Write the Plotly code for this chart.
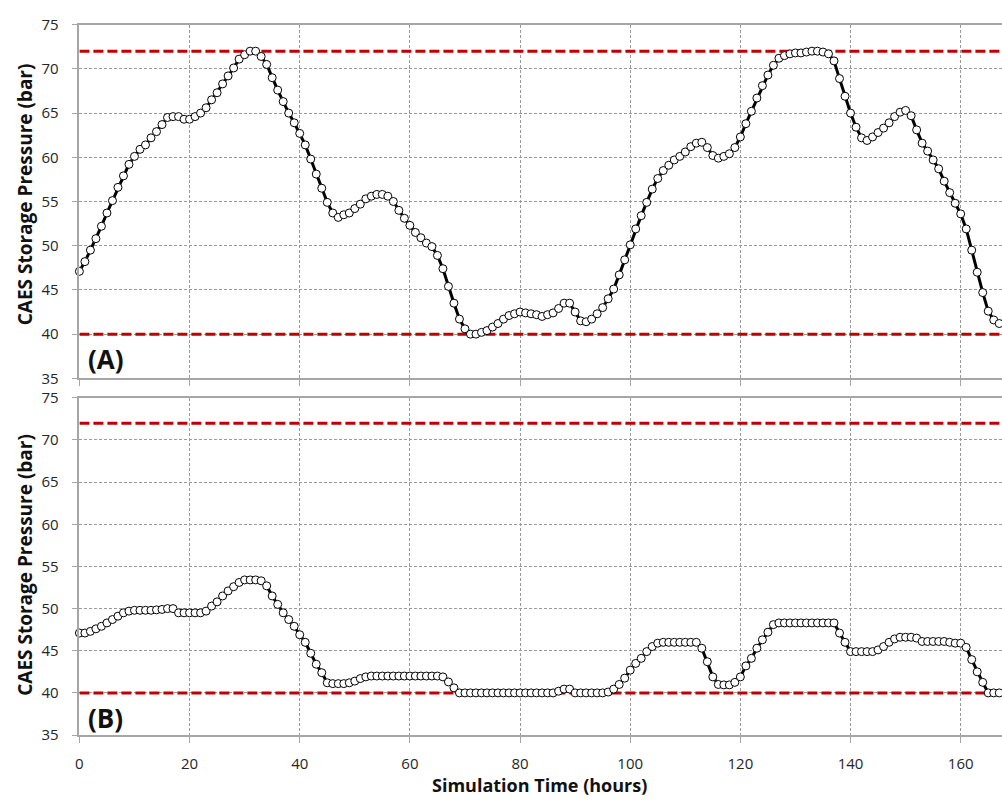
import plotly.graph_objects as go

# Hourly simulation time (h)
hours = list(range(0, 169))

# Storage pressure, case (A)
pressure_a = [
    47.1, 48.2, 49.5, 50.8, 52.2, 53.7, 55.1, 56.6, 57.9, 59.2,
    60.1, 60.9, 61.4, 62.2, 62.9, 63.7, 64.5, 64.6, 64.6, 64.3,
    64.3, 64.6, 65.0, 65.6, 66.5, 67.3, 68.3, 69.2, 70.1, 71.1,
    71.6, 72.0, 72.0, 71.4, 70.5, 69.0, 67.6, 66.3, 65.0, 63.9,
    62.7, 61.4, 59.8, 58.1, 56.5, 54.9, 53.7, 53.2, 53.5, 53.7,
    54.2, 54.7, 55.3, 55.6, 55.8, 55.8, 55.6, 55.0, 54.0, 53.1,
    52.3, 51.5, 50.9, 50.3, 49.9, 48.9, 47.4, 45.4, 43.5, 41.7,
    40.6, 40.0, 40.0, 40.2, 40.4, 40.8, 41.2, 41.7, 42.1, 42.3,
    42.5, 42.4, 42.3, 42.2, 42.0, 42.2, 42.4, 42.9, 43.5, 43.5,
    42.5, 41.5, 41.4, 41.7, 42.3, 43.0, 44.0, 45.1, 46.7, 48.4,
    50.1, 51.9, 53.4, 54.9, 56.4, 57.6, 58.5, 59.1, 59.7, 60.1,
    60.6, 61.2, 61.6, 61.7, 61.1, 60.2, 59.9, 60.1, 60.4, 61.1,
    62.3, 63.8, 65.2, 66.7, 68.1, 69.3, 70.4, 71.2, 71.5, 71.7,
    71.8, 71.8, 71.9, 72.0, 72.0, 71.9, 71.7, 70.9, 68.9, 66.9,
    65.0, 63.4, 62.2, 61.9, 62.3, 62.8, 63.3, 63.9, 64.6, 65.1,
    65.3, 64.7, 63.1, 61.6, 60.7, 59.7, 58.7, 57.3, 56.0, 54.8,
    53.6, 51.9, 49.5, 47.0, 44.7, 42.6, 41.6, 41.2, 41.0,
]

# Storage pressure, case (B)
pressure_b = [
    47.1, 47.1, 47.3, 47.6, 47.9, 48.3, 48.7, 49.1, 49.5, 49.7,
    49.8, 49.8, 49.8, 49.8, 49.85, 49.9, 50.0, 50.0, 49.5, 49.5,
    49.5, 49.5, 49.5, 49.7, 50.3, 50.8, 51.5, 52.1, 52.6, 53.1,
    53.4, 53.4, 53.4, 53.3, 52.7, 51.5, 50.5, 49.5, 48.7, 47.9,
    46.9, 46.0, 44.7, 43.4, 42.4, 41.2, 41.1, 41.1, 41.1, 41.2,
    41.4, 41.7, 41.9, 42.0, 42.0, 42.0, 42.0, 42.0, 42.0, 42.0,
    42.0, 42.0, 42.0, 42.0, 42.0, 42.0, 41.9, 41.3, 40.6, 40.0,
    40.0, 40.0, 40.0, 40.0, 40.0, 40.0, 40.0, 40.0, 40.0, 40.0,
    40.0, 40.0, 40.0, 40.0, 40.0, 40.0, 40.0, 40.2, 40.45, 40.45,
    40.0, 40.0, 40.0, 40.0, 40.0, 40.0, 40.1, 40.45, 41.0, 41.75,
    42.7, 43.5, 44.1, 44.9, 45.5, 45.9, 46.0, 46.0, 46.0, 46.0,
    46.0, 46.0, 46.0, 45.3, 43.7, 41.9, 41.0, 40.95, 40.95, 41.25,
    41.9, 43.2, 44.1, 45.3, 46.3, 47.2, 48.1, 48.3, 48.3, 48.3,
    48.3, 48.3, 48.3, 48.3, 48.3, 48.3, 48.3, 48.3, 47.1, 46.0,
    44.9, 44.9, 44.9, 44.9, 44.9, 45.1, 45.5, 46.0, 46.4, 46.6,
    46.6, 46.6, 46.5, 46.1, 46.1, 46.1, 46.1, 46.1, 46.0, 45.9,
    45.9, 45.4, 43.95, 42.5, 41.25, 40.0, 40.0, 40.0, 40.0,
]

# Operating pressure limits (bar)
p_min = 40
p_max = 72
limit_span = [0, 168]

x_ticks = [0, 20, 40, 60, 80, 100, 120, 140, 160]
y_ticks = [35, 40, 45, 50, 55, 60, 65, 70, 75]

FONT = "Open Sans"
RED = "#c00000"
GRID = "#9a9a9a"
AXIS = "#a6a6a6"

fig = go.Figure()

panels = [("x", "y", pressure_a), ("x2", "y2", pressure_b)]
for xa, ya, series in panels:
    for level in (p_max, p_min):
        fig.add_trace(go.Scatter(
            x=limit_span, y=[level, level], xaxis=xa, yaxis=ya,
            mode="lines", line=dict(color=RED, width=3, dash="10px,4px"),
            hoverinfo="skip", showlegend=False,
        ))
    fig.add_trace(go.Scatter(
        x=hours, y=series, xaxis=xa, yaxis=ya,
        mode="lines+markers", cliponaxis=False,
        line=dict(color="black", width=3),
        marker=dict(symbol="circle", size=8, color="white",
                    line=dict(color="black", width=1)),
        showlegend=False,
    ))

tick_font = dict(family=FONT, size=15, color="#262626")
x_common = dict(
    range=[0, 167.5], tickvals=x_ticks, showgrid=True,
    gridcolor=GRID, griddash="3px,2px", gridwidth=1,
    showline=True, linecolor=AXIS, linewidth=1.5, mirror=True,
    ticks="outside", ticklen=6, tickcolor=AXIS, zeroline=False,
    tickfont=tick_font, ticklabelstandoff=8,
)
y_common = dict(
    range=[35, 75], tickvals=y_ticks, showgrid=True,
    gridcolor=GRID, griddash="3px,2px", gridwidth=1,
    showline=True, linecolor=AXIS, linewidth=1.5, mirror=False,
    ticks="outside", ticklen=6, tickcolor=AXIS, zeroline=False,
    tickfont=tick_font, ticklabelstandoff=10,
)

H = 805
W = 1002
x_dom = [75.7 / W, 1.0]
dom_a = [1 - 376.7 / H, 1 - 14.0 / H]
dom_b = [1 - 742.5 / H, 1 - 396.7 / H]

fig.update_layout(
    width=W, height=H,
    margin=dict(l=0, r=0, t=0, b=0),
    paper_bgcolor="white", plot_bgcolor="white",
    font=dict(family=FONT, color="#111"),
    xaxis=dict(x_common, domain=x_dom, anchor="y", showticklabels=False),
    yaxis=dict(y_common, domain=dom_a, anchor="x"),
    xaxis2=dict(x_common, domain=x_dom, anchor="y2"),
    yaxis2=dict(y_common, domain=dom_b, anchor="x2"),
)

y_title_font = dict(family=FONT, size=19, color="#111")
x_title_font = dict(family=FONT, size=18, color="#111")
panel_font = dict(family=FONT, size=26, color="#111")


def note(text, px, py, font, angle=0):
    return dict(text=text, xref="paper", yref="paper", x=px / W, y=1 - py / H,
                xanchor="center", yanchor="middle", textangle=angle,
                showarrow=False, font=font)


fig.update_layout(annotations=[
    note("<b>CAES Storage Pressure (bar)</b>", 21, 188, y_title_font, -90),
    note("<b>CAES Storage Pressure (bar)</b>", 21, 568, y_title_font, -90),
    note("<b>Simulation Time (hours)</b>", 538, 794, x_title_font),
    note("<b>(A)</b>", 102, 357, panel_font),
    note("<b>(B)</b>", 102, 725, panel_font),
])

fig.write_html("out.html")
